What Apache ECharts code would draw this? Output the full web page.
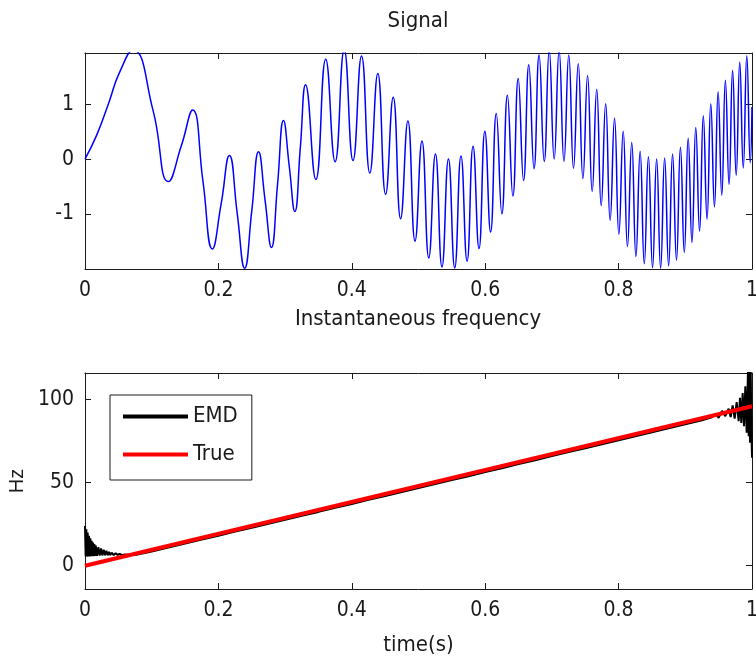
<!DOCTYPE html>
<html>
<head>
<meta charset="utf-8">
<script src="https://cdn.jsdelivr.net/npm/echarts@6/dist/echarts.min.js"></script>
<style>
html,body{margin:0;padding:0;background:#fff;}
#chart{width:756px;height:666px;}
</style>
</head>
<body>
<div id="chart"></div>
<script>
// ---- Data ----
const xTicks = [0, 0.2, 0.4, 0.6, 0.8, 1];
const sigTicks = [-1, 0, 1];
const hzTicks = [0, 50, 100];

// Signal: extrema / crossing points of the blue trace (time, value)
const sigT = [
  0, 0.018, 0.0361, 0.051, 0.0722,
  0.1021, 0.125, 0.1443, 0.1614, 0.1768, 0.1909, 0.2041, 0.2165, 0.2282, 0.2394,
  0.25, 0.2602, 0.27, 0.2795, 0.2887, 0.2976, 0.3062, 0.3146, 0.3228, 0.3307,
  0.3461, 0.3609, 0.375, 0.3886, 0.4018, 0.4146, 0.4270, 0.4390, 0.4507, 0.4621,
  0.4732, 0.4841, 0.4948, 0.5052, 0.5154, 0.5254, 0.5352, 0.5449, 0.5543, 0.5637,
  0.5728, 0.5818, 0.5907, 0.5995, 0.6081, 0.6166, 0.625, 0.6333, 0.6415, 0.6495,
  0.6575, 0.6654, 0.6732, 0.6808, 0.6885, 0.6960, 0.7034, 0.7108, 0.7181, 0.7253,
  0.7324, 0.7395, 0.7465, 0.7535, 0.7604, 0.7672, 0.7739, 0.7806, 0.7873, 0.7939,
  0.8004, 0.8069, 0.8133, 0.8197, 0.8260, 0.8323, 0.8385, 0.8447, 0.8509, 0.8570,
  0.8630, 0.8690, 0.8750, 0.8809, 0.8868, 0.8927, 0.8985, 0.9043, 0.9100, 0.9157,
  0.9214, 0.9270, 0.9326, 0.9382, 0.9437, 0.9492, 0.9547, 0.9601, 0.9656, 0.9709,
  0.9763, 0.9816, 0.9869, 0.9922, 0.9974, 1.0
];
const sigY = [
  0, 0.452, 1.046, 1.562, 1.993,
  0.886, -0.412, 0.238, 0.897, -0.401, -1.642, -0.821, 0.064, -0.992, -1.995,
  -0.951, 0.132, -0.754, -1.616, -0.461, 0.704, -0.127, -0.958, 0.205, 1.358,
  -0.375, 1.826, -0.049, 1.999, -0.025, 1.887, -0.255, 1.564, -0.644, 1.133,
  -1.090, 0.696, -1.499, 0.331, -1.806, 0.092, -1.973, 0.001, -1.989, 0.056,
  -1.867, 0.237, -1.637, 0.509, -1.334, 0.832, -1.0, 1.166, -0.675, 1.473,
  -0.392, 1.725, -0.176, 1.902, -0.043, 1.990, 0.000, 1.988, -0.045, 1.902,
  -0.169, 1.744, -0.357, 1.530, -0.592, 1.279, -0.853, 1.012, -1.121, 0.749,
  -1.375, 0.508, -1.601, 0.302, -1.783, 0.145, -1.913, 0.043, -1.986, 0.001,
  -1.997, 0.019, -1.951, 0.092, -1.852, 0.216, -1.707, 0.380, -1.525, 0.576,
  -1.319, 0.791, -1.098, 1.014, -0.875, 1.233, -0.661, 1.440, -0.466, 1.623,
  -0.297, 1.775, -0.162, 1.891, -0.066, 0.951
];

// Instantaneous frequency estimated by EMD (black)
const emdT = [
  0.000, 0.001, 0.002, 0.003, 0.004, 0.005, 0.006, 0.007, 0.008, 0.009,
  0.010, 0.011, 0.012, 0.013, 0.014, 0.015, 0.016, 0.018, 0.020, 0.022,
  0.024, 0.026, 0.028, 0.030, 0.032, 0.034, 0.036, 0.038, 0.040, 0.043,
  0.046, 0.049, 0.052, 0.056, 0.060, 0.075, 0.100, 0.125, 0.150, 0.175,
  0.200, 0.225, 0.250, 0.275, 0.300, 0.325, 0.350, 0.375, 0.400, 0.425,
  0.450, 0.475, 0.500, 0.525, 0.550, 0.575, 0.600, 0.625, 0.650, 0.675,
  0.700, 0.725, 0.750, 0.775, 0.800, 0.825, 0.850, 0.875, 0.900, 0.925,
  0.940, 0.945, 0.950, 0.955, 0.960, 0.965, 0.968, 0.971, 0.974, 0.977,
  0.980, 0.982, 0.984, 0.986, 0.988, 0.990, 0.992, 0.994, 0.995, 0.996,
  0.997, 0.998, 0.999, 1.000
];
const emdY = [
  24, 5.5, 22, 5.5, 20, 5.6, 18, 5.6, 16.5, 5.7,
  15, 5.8, 14, 5.8, 13, 5.9, 12.2, 6.0, 11.2, 6.1,
  10.4, 6.2, 9.6, 6.3, 9.0, 6.3, 8.4, 6.4, 7.9, 6.4,
  7.5, 6.5, 7.2, 6.4, 6.7, 6.4, 8.6, 10.9, 13.3, 15.8,
  18.1, 20.6, 22.8, 25.3, 27.6, 30.1, 32.4, 34.9, 37.2, 39.7,
  42.0, 44.4, 46.8, 49.2, 51.6, 53.9, 56.4, 58.7, 61.2, 63.5,
  66.0, 68.4, 70.7, 73.1, 75.5, 77.9, 80.3, 82.7, 85.1, 87.5,
  89.3, 91.5, 89.0, 93.2, 90.0, 94.5, 89.5, 96.5, 88.5, 98.5,
  87.0, 101, 86, 104, 84, 108, 80, 118, 78, 122,
  74, 120, 85, 65
];

// True instantaneous frequency (red)
const trueT = [0, 1];
const trueY = [0, 96];

// ---- Chart ----
const narrow = '"Liberation Sans Narrow", "DejaVu Sans Condensed", "Liberation Sans", sans-serif';
const ink = '#1a1a1a';
const pair = (a, b) => a.map((v, i) => [v, b[i]]);

const frameLine = { show: true, onZero: false, lineStyle: { color: ink, width: 1 } };
const tickIn = (vals) => ({ show: true, inside: true, length: 6, lineStyle: { color: ink, width: 1 }, customValues: vals });
const lbl = (vals) => ({ show: true, customValues: vals, margin: 11, fontFamily: narrow, fontSize: 21, color: ink });

const chart = echarts.init(document.getElementById('chart'), null, { renderer: 'canvas' });
chart.setOption({
  animation: false,
  backgroundColor: '#fff',
  title: [
    { text: 'Signal', left: 418, top: 10, textAlign: 'center', padding: 0,
      textStyle: { fontFamily: narrow, fontSize: 22, fontWeight: 'normal', color: ink } },
    { text: 'Instantaneous frequency', left: 418, top: 308, textAlign: 'center', padding: 0,
      textStyle: { fontFamily: narrow, fontSize: 22, fontWeight: 'normal', color: ink } }
  ],
  grid: [
    { left: 85, top: 53, width: 667, height: 216, outerBoundsMode: 'none', containLabel: false },
    { left: 85, top: 373, width: 667, height: 216, outerBoundsMode: 'none', containLabel: false }
  ],
  legend: {
    data: ['EMD', 'True'],
    orient: 'vertical', left: 110, top: 395,
    padding: [9, 14, 13, 13], itemGap: 13, itemWidth: 65, itemHeight: 4, icon: 'rect',
    backgroundColor: '#fff', borderColor: ink, borderWidth: 1,
    textStyle: { fontFamily: narrow, fontSize: 22, lineHeight: 25, color: ink }
  },
  xAxis: [
    { gridIndex: 0, type: 'value', min: 0, max: 1, interval: 0.2, position: 'bottom',
      axisLine: frameLine, axisTick: tickIn(xTicks), axisLabel: lbl(xTicks), splitLine: { show: false } },
    { gridIndex: 0, type: 'value', min: 0, max: 1, interval: 0.2, position: 'top',
      axisLine: frameLine, axisTick: tickIn(xTicks), axisLabel: { show: false }, splitLine: { show: false } },
    { gridIndex: 1, type: 'value', min: 0, max: 1, interval: 0.2, position: 'bottom',
      name: 'time(s)', nameLocation: 'middle', nameGap: 45,
      nameTextStyle: { fontFamily: narrow, fontSize: 22, color: ink },
      axisLine: frameLine, axisTick: tickIn(xTicks), axisLabel: lbl(xTicks), splitLine: { show: false } },
    { gridIndex: 1, type: 'value', min: 0, max: 1, interval: 0.2, position: 'top',
      axisLine: frameLine, axisTick: tickIn(xTicks), axisLabel: { show: false }, splitLine: { show: false } }
  ],
  yAxis: [
    { gridIndex: 0, type: 'value', min: -2.01, max: 1.94, position: 'left',
      axisLine: frameLine, axisTick: tickIn(sigTicks), axisLabel: lbl(sigTicks), splitLine: { show: false } },
    { gridIndex: 0, type: 'value', min: -2.01, max: 1.94, position: 'right',
      axisLine: frameLine, axisTick: tickIn(sigTicks), axisLabel: { show: false }, splitLine: { show: false } },
    { gridIndex: 1, type: 'value', min: -14, max: 116, position: 'left',
      name: 'Hz', nameLocation: 'middle', nameGap: 57, nameRotate: 90,
      nameTextStyle: { fontFamily: '"Liberation Sans", sans-serif', fontSize: 20, color: ink },
      axisLine: frameLine, axisTick: tickIn(hzTicks), axisLabel: lbl(hzTicks), splitLine: { show: false } },
    { gridIndex: 1, type: 'value', min: -14, max: 116, position: 'right',
      axisLine: frameLine, axisTick: tickIn(hzTicks), axisLabel: { show: false }, splitLine: { show: false } }
  ],
  series: [
    { name: 'Signal', type: 'line', xAxisIndex: 0, yAxisIndex: 0, data: pair(sigT, sigY),
      smooth: 0.5, symbol: 'none', clip: true, lineStyle: { color: '#0000ff', width: 1.5 }, itemStyle: { color: '#0000ff' } },
    { name: 'EMD', type: 'line', xAxisIndex: 2, yAxisIndex: 2, data: pair(emdT, emdY),
      symbol: 'none', clip: true, lineStyle: { color: '#000', width: 2 }, itemStyle: { color: '#000' } },
    { name: 'True', type: 'line', xAxisIndex: 2, yAxisIndex: 2, data: pair(trueT, trueY),
      symbol: 'none', clip: true, lineStyle: { color: '#ff0000', width: 4 }, itemStyle: { color: '#ff0000' } }
  ]
});
</script>
</body>
</html>
